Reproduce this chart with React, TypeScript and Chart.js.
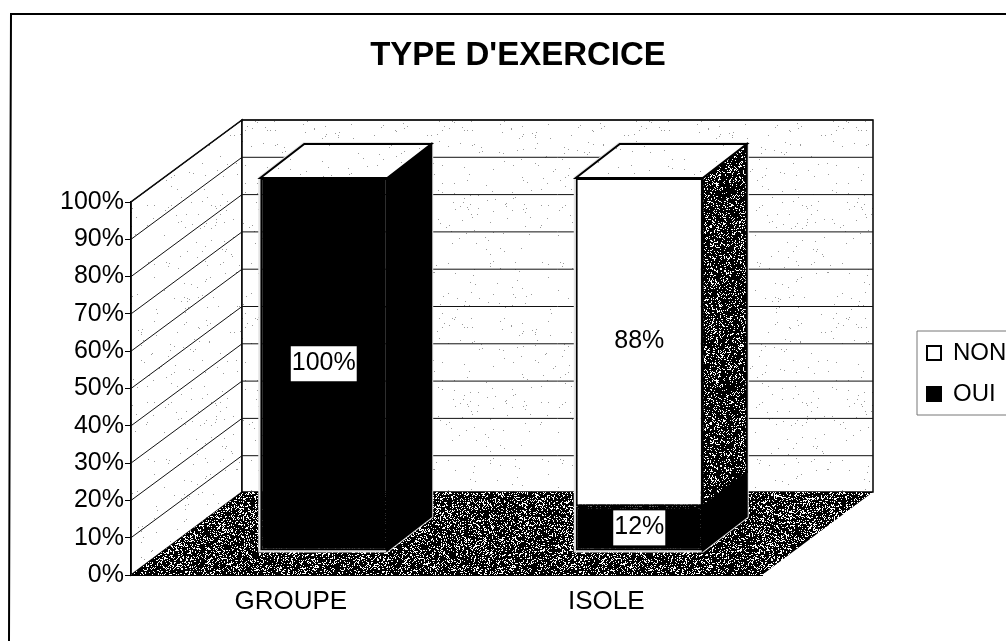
import React, { useEffect, useRef } from "react";
import { Chart, registerables } from "chart.js";

Chart.register(...registerables);

const categories = ["GROUPE", "ISOLE"];
const ouiValues = [100, 12];
const nonValues = [0, 88];
const titleText = "TYPE D'EXERCICE";

const WALL_DX = 111;
const WALL_DY = 83;
const BAR_SHIFT_X = 35;
const BAR_SHIFT_Y = 24;
const BAR_DX = 44;
const BAR_DY = 34;

function speckle(ctx: CanvasRenderingContext2D, base: string, dot: string, rate: number, salt: number) {
  const size = 197;
  const c = document.createElement("canvas");
  c.width = size;
  c.height = size;
  const g = c.getContext("2d")!;
  g.fillStyle = base;
  g.fillRect(0, 0, size, size);
  g.fillStyle = dot;
  for (let y = 0; y < size; y++) {
    for (let x = 0; x < size; x++) {
      const h = Math.abs(Math.sin((x + salt) * 12.9898 + y * 78.233) * 43758.5453);
      if (h - Math.floor(h) < rate) g.fillRect(x, y, 1, 1);
    }
  }
  return ctx.createPattern(c, "repeat")!;
}

function poly(ctx: CanvasRenderingContext2D, pts: number[][], fill: any, stroke?: string, lw = 1) {
  ctx.beginPath();
  pts.forEach((p, i) => (i ? ctx.lineTo(p[0], p[1]) : ctx.moveTo(p[0], p[1])));
  ctx.closePath();
  if (fill) {
    ctx.fillStyle = fill;
    ctx.fill();
  }
  if (stroke) {
    ctx.strokeStyle = stroke;
    ctx.lineWidth = lw;
    ctx.stroke();
  }
}

const scene3d = {
  id: "scene3d",
  afterLayout(chart: any) {
    chart.titleBlock.left = 0;
    chart.titleBlock.right = 1036;
    const lg = chart.legend;
    lg.left = 910;
    lg.top = 324;
    lg.right = 1006;
    lg.bottom = 460;
  },
  beforeDraw(chart: any) {
    const ctx: CanvasRenderingContext2D = chart.ctx;
    const { x, y } = chart.scales;
    const wallPat = speckle(ctx, "#ffffff", "#9a9a9a", 0.007, 3);
    const floorPat = speckle(ctx, "#000000", "#ffffff", 0.24, 7);
    const L = x.left, R = x.right, T = y.top, B = y.bottom;
    ctx.save();
    // page frame
    ctx.strokeStyle = "#000";
    ctx.lineWidth = 2;
    ctx.beginPath();
    ctx.moveTo(1006, 14);
    ctx.lineTo(11, 14);
    ctx.lineTo(10, 300);
    ctx.lineTo(9, 641);
    ctx.stroke();
    // legend box
    ctx.strokeStyle = "#777";
    ctx.lineWidth = 1;
    ctx.beginPath();
    ctx.moveTo(1006, 331);
    ctx.lineTo(917, 331);
    ctx.lineTo(917, 415);
    ctx.lineTo(1006, 415);
    ctx.stroke();
    // walls and floor
    poly(ctx, [[L, B], [L, T], [L + WALL_DX, T - WALL_DY + 1], [L + WALL_DX, B - WALL_DY]], wallPat, "#000", 1.5);
    poly(ctx, [[L + WALL_DX, T - WALL_DY + 1], [R + WALL_DX, T - WALL_DY + 1], [R + WALL_DX, B - WALL_DY], [L + WALL_DX, B - WALL_DY]], wallPat, "#000", 1.5);
    ctx.strokeStyle = "#111";
    ctx.lineWidth = 1;
    y.ticks.forEach((t: any) => {
      const py = y.getPixelForValue(t.value);
      if (t.value === 0) return;
      ctx.beginPath();
      ctx.moveTo(L, py);
      ctx.lineTo(L + WALL_DX, py - WALL_DY + 1);
      ctx.lineTo(R + WALL_DX, py - WALL_DY + 1);
      ctx.stroke();
    });
    poly(ctx, [[L, B], [L + WALL_DX, B - WALL_DY], [R + WALL_DX, B - WALL_DY], [R, B]], floorPat);
    ctx.restore();
  },
  beforeDatasetsDraw(chart: any) {
    const ctx: CanvasRenderingContext2D = chart.ctx;
    const sidePat = speckle(ctx, "#000000", "#ffffff", 0.2, 11);
    const topPat = speckle(ctx, "#ffffff", "#9a9a9a", 0.005, 5);
    const datasets = chart.data.datasets;
    const lastMeta = chart.getDatasetMeta(datasets.length - 1).data;
    const firstMeta = chart.getDatasetMeta(0).data;
    ctx.save();
    ctx.translate(BAR_SHIFT_X, -BAR_SHIFT_Y);
    // light halo round each block, as on the scanned original
    lastMeta.forEach((bar: any, i: number) => {
      const l = bar.x - bar.width / 2;
      const r = bar.x + bar.width / 2;
      const base = firstMeta[i].base;
      poly(ctx, [[l, bar.y], [l + BAR_DX, bar.y - BAR_DY], [r + BAR_DX, bar.y - BAR_DY], [r + BAR_DX, base - BAR_DY], [r, base], [l, base]], null, "#e4e4e4", 4);
    });
    datasets.forEach((ds: any, di: number) => {
      chart.getDatasetMeta(di).data.forEach((bar: any) => {
        const r = bar.x + bar.width / 2;
        const l = bar.x - bar.width / 2;
        const dark = ds.backgroundColor === "#000000";
        poly(ctx, [[r, bar.y], [r + BAR_DX, bar.y - BAR_DY], [r + BAR_DX, bar.base - BAR_DY], [r, bar.base]], dark ? "#000" : sidePat, "#000", 2);
        if (di === datasets.length - 1) {
          poly(ctx, [[l, bar.y], [l + BAR_DX, bar.y - BAR_DY], [r + BAR_DX, bar.y - BAR_DY], [r, bar.y]], topPat, "#000", 2);
        }
      });
    });
    ctx.restore();
    ctx.save();
    ctx.translate(BAR_SHIFT_X, -BAR_SHIFT_Y);
  },
  afterDatasetsDraw(chart: any) {
    const ctx: CanvasRenderingContext2D = chart.ctx;
    ctx.restore();
    ctx.save();
    ctx.translate(BAR_SHIFT_X, -BAR_SHIFT_Y);
    ctx.font = "25px 'Liberation Sans'";
    ctx.textAlign = "center";
    ctx.textBaseline = "middle";
    chart.data.datasets.forEach((ds: any, di: number) => {
      chart.getDatasetMeta(di).data.forEach((bar: any, i: number) => {
        const v = ds.data[i];
        if (!v) return;
        const s = v + "%";
        const w = ctx.measureText(s).width + 2;
        const cy = (bar.y + bar.base) / 2 - 1;
        ctx.fillStyle = "#fff";
        ctx.fillRect(bar.x - w / 2, cy - 17, w, 35);
        ctx.fillStyle = "#000";
        ctx.fillText(s, bar.x, cy);
      });
    });
    ctx.restore();
  },
};

export default function App() {
  const ref = useRef<HTMLCanvasElement>(null);
  useEffect(() => {
    const chart = new Chart(ref.current!, {
      type: "bar",
      plugins: [scene3d],
      data: {
        labels: categories,
        datasets: [
          { label: "OUI", data: ouiValues, backgroundColor: "#000000", borderColor: "#000", borderWidth: 2, borderSkipped: false, clip: false, categoryPercentage: 1, barPercentage: 0.4025 },
          { label: "NON", data: nonValues, backgroundColor: "#ffffff", borderColor: "#000", borderWidth: 2, borderSkipped: false, clip: false, categoryPercentage: 1, barPercentage: 0.4025 },
        ] as any,
      },
      options: {
        animation: false,
        responsive: false,
        devicePixelRatio: 1,
        layout: { padding: { left: 0, right: 244, top: 0, bottom: 0 }, autoPadding: false },
        plugins: {
          tooltip: { enabled: false },
          title: {
            display: true,
            text: titleText,
            color: "#000",
            font: { family: "'Liberation Sans'", size: 33, weight: "bold" },
            padding: { top: 36, bottom: 126.4 },
          },
          legend: {
            position: "chartArea",
            align: "start",
            reverse: true,
            labels: {
              color: "#000",
              boxWidth: 14,
              boxHeight: 14,
              padding: 17,
              font: { family: "'Liberation Sans'", size: 24 },
            },
          },
        },
        scales: {
          x: {
            stacked: true,
            grid: { display: false, drawTicks: false },
            border: { display: true, color: "#000", width: 1 },
            ticks: { color: "#000", font: { family: "'Liberation Sans'", size: 26 }, padding: 11, labelOffset: 2, maxRotation: 0 },
            afterFit(s: any) {
              s.height = 66;
            },
          },
          y: {
            stacked: true,
            min: 0,
            max: 100,
            grid: { drawOnChartArea: false, drawTicks: true, tickLength: 6, color: "#000" },
            border: { display: true, color: "#000", width: 1.5 },
            ticks: {
              stepSize: 10,
              color: "#000",
              padding: 1,
              font: { family: "'Liberation Sans'", size: 25 },
              callback: (v: any) => v + "%",
            },
            afterFit(s: any) {
              s.width = 131;
            },
          },
        },
      } as any,
    });
    return () => chart.destroy();
  }, []);
  return (
    <canvas
      ref={ref}
      width={1006}
      height={641}
      style={{ position: "fixed", left: 0, top: 0, display: "block", background: "#fff" }}
    />
  );
}
